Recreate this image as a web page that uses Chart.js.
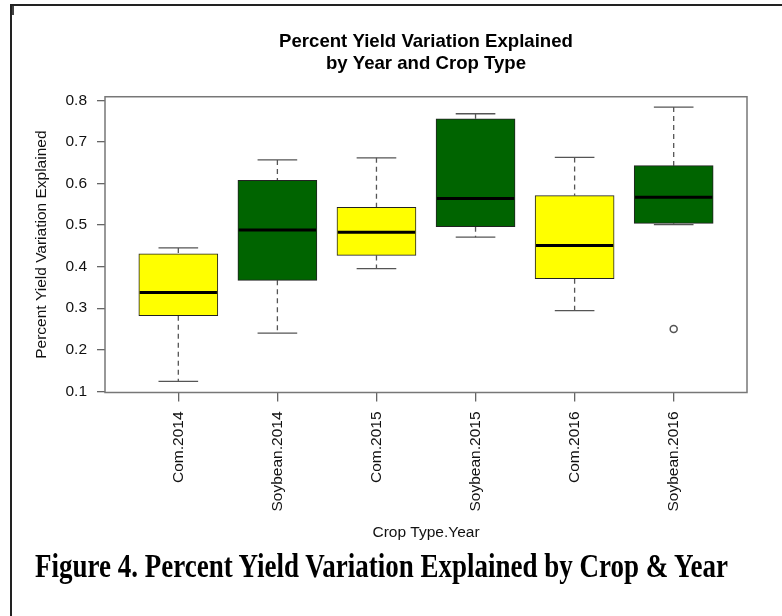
<!DOCTYPE html>
<html><head><meta charset="utf-8">
<script src="https://cdn.jsdelivr.net/npm/chart.js@4.4.1/dist/chart.umd.min.js"></script>
<style>
html,body{margin:0;padding:0;background:#fff;overflow:hidden;width:782px;height:616px;}
#wrap{position:relative;width:782px;height:616px;overflow:hidden;}
#frame{position:absolute;left:10px;top:4px;width:900px;height:800px;border-left:2px solid #222;border-top:2px solid #222;}
#mark{position:absolute;left:12px;top:6px;width:2px;height:9px;background:#444;}
canvas{position:absolute;left:0;top:0;}
#caption{position:absolute;left:35px;top:549px;font-family:'Liberation Serif','Times New Roman',serif;font-weight:bold;font-size:34px;line-height:34px;white-space:nowrap;transform-origin:0 0;color:#000;}
</style></head>
<body>
<div id="wrap">
<div id="frame"></div>
<div id="mark"></div>
<canvas id="c" width="782" height="616"></canvas>
<div id="caption">Figure 4. Percent Yield Variation Explained by Crop &amp; Year</div>
</div>
<script>
const categories = ['Com.2014','Soybean.2014','Com.2015','Soybean.2015','Com.2016','Soybean.2016'];
const whiskerLow  = [0.124, 0.240, 0.395, 0.471, 0.294, 0.501];
const q1          = [0.282, 0.367, 0.427, 0.496, 0.371, 0.504];
const median      = [0.338, 0.488, 0.483, 0.564, 0.451, 0.567];
const q3          = [0.431, 0.608, 0.543, 0.756, 0.571, 0.643];
const whiskerHigh = [0.445, 0.657, 0.662, 0.768, 0.663, 0.784];
const outlierX = [6];
const outlierY = [0.25];
const yTicks = [0.1, 0.2, 0.3, 0.4, 0.5, 0.6, 0.7, 0.8];
const boxColors = ['#FFFF00','#006400','#FFFF00','#006400','#FFFF00','#006400'];

// fit caption width
const cap = document.getElementById('caption');
const w = cap.getBoundingClientRect().width;
cap.style.transform = 'scaleX(' + (693 / w) + ')';

Chart.defaults.font.family = "'Liberation Sans', Arial, Helvetica, sans-serif";
Chart.defaults.color = '#000';

const boxData = categories.map((c, i) => ({x: i + 1, y: [q1[i], q3[i]]}));
const outData = outlierX.map((v, i) => ({x: v, y: outlierY[i]}));

function seg(ctx, x1, y1, x2, y2) {
  ctx.beginPath(); ctx.moveTo(x1, y1); ctx.lineTo(x2, y2); ctx.stroke();
}

const boxParts = {
  id: 'boxParts',
  beforeDatasetsDraw(chart) {
    const {ctx, scales: {x, y}} = chart;
    ctx.save();
    ctx.strokeStyle = '#555';
    ctx.lineWidth = 1.3;
    categories.forEach((c, i) => {
      const cx = x.getPixelForValue(i + 1);
      const l = x.getPixelForValue(i + 0.8), r = x.getPixelForValue(i + 1.2);
      ctx.setLineDash([5, 4]);
      seg(ctx, cx, y.getPixelForValue(whiskerHigh[i]), cx, y.getPixelForValue(q3[i]));
      seg(ctx, cx, y.getPixelForValue(q1[i]), cx, y.getPixelForValue(whiskerLow[i]));
      ctx.setLineDash([]);
      seg(ctx, l, y.getPixelForValue(whiskerHigh[i]), r, y.getPixelForValue(whiskerHigh[i]));
      seg(ctx, l, y.getPixelForValue(whiskerLow[i]), r, y.getPixelForValue(whiskerLow[i]));
    });
    ctx.restore();
  },
  afterDatasetsDraw(chart) {
    const {ctx, scales: {x, y}, chartArea: a} = chart;
    ctx.save();
    ctx.strokeStyle = '#000';
    ctx.lineWidth = 3;
    categories.forEach((c, i) => {
      const l = x.getPixelForValue(i + 0.6), r = x.getPixelForValue(i + 1.4);
      const my = y.getPixelForValue(median[i]);
      seg(ctx, l + 1, my, r - 1, my);
    });
    ctx.strokeStyle = '#777';
    ctx.lineWidth = 1.5;
    ctx.strokeRect(a.left, a.top, a.right - a.left, a.bottom - a.top);
    ctx.restore();
  }
};

new Chart(document.getElementById('c'), {
  type: 'bar',
  data: {
    datasets: [
      {
        type: 'bar',
        data: boxData,
        backgroundColor: boxColors,
        borderColor: '#222',
        borderWidth: 1,
        borderSkipped: false,
        barThickness: 79,
        order: 2
      },
      {
        type: 'scatter',
        data: outData,
        pointRadius: 3.5,
        pointBorderColor: '#555',
        pointBackgroundColor: '#fff',
        pointBorderWidth: 1.5,
        order: 1
      }
    ]
  },
  options: {
    responsive: false,
    animation: false,
    events: [],
    layout: {padding: {left: 0, right: 35, top: 0, bottom: 0}},
    plugins: {
      legend: {display: false},
      tooltip: {enabled: false},
      title: {
        display: true,
        fullSize: false,
        text: ['Percent Yield Variation Explained', 'by Year and Crop Type'],
        font: {size: 18.6, weight: 'bold'},
        color: '#000',
        padding: {top: 30.8, bottom: 21.3}
      }
    },
    scales: {
      x: {
        type: 'linear',
        offset: false,
        min: 0.26,
        max: 6.74,
        afterBuildTicks: (axis) => { axis.ticks = categories.map((c, i) => ({value: i + 1})); },
        afterFit: (axis) => { axis.height = 223.5; },
        grid: {display: true, offset: false, drawOnChartArea: false, drawTicks: true, tickLength: 9, color: '#666', lineWidth: 1.3},
        border: {display: false},
        ticks: {
          autoSkip: false,
          minRotation: 90,
          maxRotation: 90,
          padding: 10,
          font: {size: 15.5},
          color: '#111',
          callback: (v) => categories[Math.round(v) - 1]
        },
        title: {display: true, text: 'Crop Type.Year', font: {size: 15.5}, color: '#111', padding: {top: 0, bottom: 73.7}}
      },
      y: {
        type: 'linear',
        min: 0.097,
        max: 0.809,
        afterBuildTicks: (axis) => { axis.ticks = yTicks.map(v => ({value: v})); },
        afterFit: (axis) => { axis.width = 105; },
        grid: {display: true, drawOnChartArea: false, drawTicks: true, tickLength: 8, color: '#666', lineWidth: 1.3},
        border: {display: false},
        ticks: {
          padding: 10,
          font: {size: 15.5},
          color: '#111',
          callback: (v) => Number(v).toFixed(1)
        },
        title: {display: true, text: 'Percent Yield Variation Explained', font: {size: 15.5}, color: '#111', padding: {top: 32.7, bottom: 0}}
      }
    }
  },
  plugins: [boxParts]
});
</script>
</body></html>
